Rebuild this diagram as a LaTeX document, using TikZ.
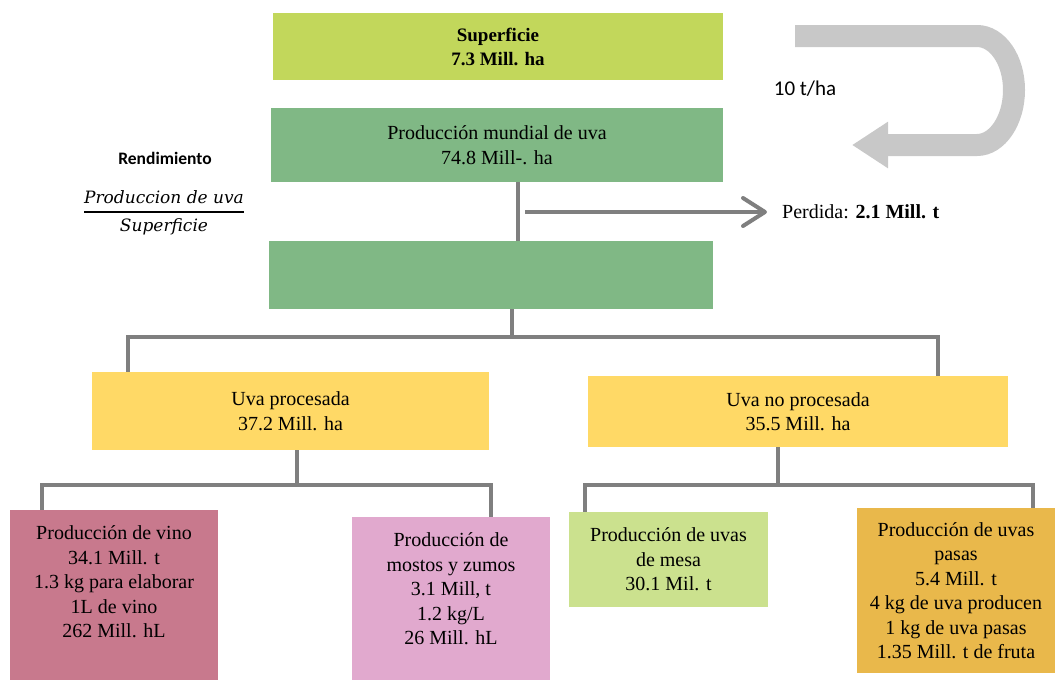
\documentclass[tikz,border=0pt]{standalone}
\usepackage{fontspec}
\setmainfont{Liberation Serif}
\newfontfamily\calibri{Carlito}
\newfontfamily\fracfont{DejaVu Serif}
\usetikzlibrary{arrows.meta,calc}

\definecolor{supgreen}{HTML}{C2D75B}
\definecolor{prodgreen}{HTML}{80B885}
\definecolor{uvayellow}{HTML}{FFD966}
\definecolor{vinored}{HTML}{C8798D}
\definecolor{mostopink}{HTML}{E1A9CE}
\definecolor{mesagreen}{HTML}{CBE18E}
\definecolor{pasaorange}{HTML}{E9B84B}
\definecolor{linegray}{HTML}{7F7F7F}
\definecolor{loopgray}{HTML}{C8C8C8}

\begin{document}
\begin{tikzpicture}[x=1pt,y=-1pt,
  box/.style={inner sep=0pt, align=center, font=\fontsize{20}{24.5}\selectfont},
  conn/.style={draw=linegray, line width=4pt}]
\useasboundingbox (0,0) rectangle (1055,680);
% Step 1: surface, world production, blank stage
\node[box, fill=supgreen, minimum width=450pt, minimum height=67pt,
  font=\fontsize{19}{24}\selectfont\bfseries] (sup) at (498,46.5) {Superficie\\7.3 Mill. ha};
\node[box, fill=prodgreen, minimum width=452pt, minimum height=74pt] (prod) at (497,145)
  {Producción mundial de uva\\74.8 Mill-. ha};
\node[box, fill=prodgreen, minimum width=444pt, minimum height=68pt] (blank) at (491,275) {};
% yield on the left, loop arrow on the right
\node[font=\calibri\bfseries\fontsize{17.5}{21}\selectfont] (yieldlbl) at (165,158) {Rendimiento};
\node[font=\fracfont\itshape\fontsize{17}{27}\selectfont] (ratio) at (164,212)
  {\setlength{\arrayrulewidth}{1.6pt}\begin{tabular}{@{}c@{}}Produccion de uva\\\hline Superficie\end{tabular}};
\node[font=\calibri\fontsize{21}{25}\selectfont] (rate) at (805,89) {10 t/ha};
\coordinate (loopin) at (795,36);
\coordinate (loopout) at (852,145);
\draw[draw=loopgray, line width=22pt, -{Triangle[length=36pt,width=44pt]}]
  (loopin) -- (977,36) .. controls (997.4,36) and (1014,59.9) .. (1014,90)
  .. controls (1014,120.1) and (997.4,145) .. (977,145) -- (loopout);
% Step 2: loss branch
\node[box, anchor=west] (loss) at (782,212) {Perdida: \textbf{2.1 Mill. t}};
\coordinate (lossfrom) at ([xshift=28pt]prod.south |- loss.west);
\draw[conn] ([xshift=21pt]prod.south) -- ([xshift=21pt]prod.south |- blank.north);
\draw[conn, -{Straight Barb[length=22pt,width=28pt,round]}] (lossfrom) -- ([xshift=-15pt]loss.west);
% Step 3: processed / not processed
\node[box, fill=uvayellow, minimum width=397pt, minimum height=78pt] (proc) at (290.5,411)
  {Uva procesada\\37.2 Mill. ha};
\node[box, fill=uvayellow, minimum width=420pt, minimum height=71pt] (noproc) at (798,411.5)
  {Uva no procesada\\35.5 Mill. ha};
\coordinate (bus1) at (512,337);
\draw[conn] ([xshift=21pt]blank.south) -- (bus1);
\draw[conn] ([xshift=-162.5pt]proc.north) |- (bus1) -| ([xshift=140pt]noproc.north);
% Step 4: final products
\node[box, fill=vinored, minimum width=208pt, minimum height=170pt] (vino) at (114,595) {};
\node[box, anchor=north] (vinotext) at ($(vino.north)+(0,16)$)
  {Producción de vino\\34.1 Mill. t\\1.3 kg para elaborar\\1L de vino\\262 Mill. hL};
\node[box, fill=mostopink, minimum width=198pt, minimum height=163pt] (mostos) at (451,598.5) {};
\node[box, anchor=north] (mostostext) at ($(mostos.north)+(0,16)$)
  {Producción de\\mostos y zumos\\3.1 Mill, t\\1.2 kg/L\\26 Mill. hL};
\node[box, fill=mesagreen, minimum width=199pt, minimum height=95pt] (mesa) at (668.5,559.5)
  {Producción de uvas\\de mesa\\30.1 Mil. t};
\node[box, fill=pasaorange, minimum width=198pt, minimum height=165pt] (pasas) at (956,590.5)
  {Producción de uvas\\pasas\\5.4 Mill. t\\4 kg de uva producen\\1 kg de uva pasas\\1.35 Mill. t de fruta};
\coordinate (bus2) at (297,485);
\coordinate (bus3) at (778,485);
\foreach \top/\bus/\dx/\left/\lx/\right/\rx in
    {proc/bus2/6.5/vino/-72/mostos/40, noproc/bus3/-20/mesa/-83.5/pasas/77} {
  \draw[conn] ([xshift=\dx pt]\top.south) -- (\bus);
  \draw[conn] ([xshift=\lx pt]\left.north) |- (\bus) -| ([xshift=\rx pt]\right.north);
}
\end{tikzpicture}
\end{document}
